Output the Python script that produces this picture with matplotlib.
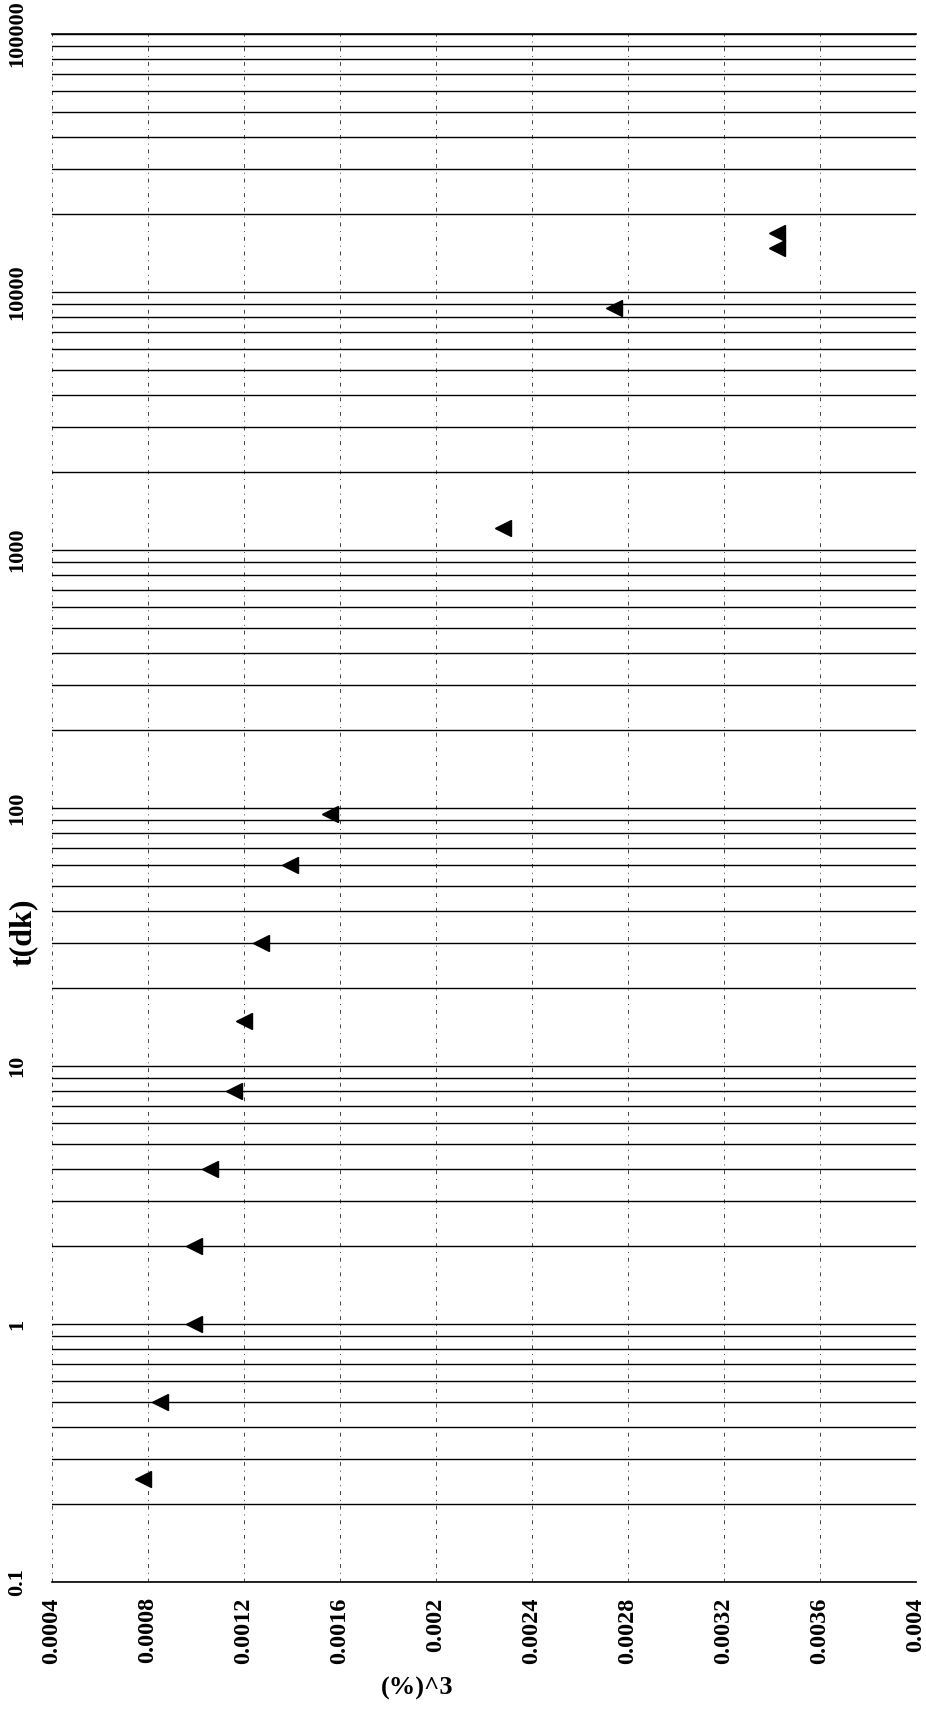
import numpy as np
import matplotlib
matplotlib.use('Agg')
import matplotlib.pyplot as plt
from matplotlib.ticker import LogLocator, NullFormatter

# data
strain3 = [0.00078, 0.00085, 0.00099, 0.00099, 0.00106, 0.00116,
           0.00120, 0.00127, 0.00139, 0.00156, 0.00228, 0.00274,
           0.00342, 0.00342]
t_dk = [0.25, 0.5, 1, 2, 4, 8,
        15, 30, 60, 95, 1220, 8700,
        16900, 14800]

xticks = [0.0004, 0.0008, 0.0012, 0.0016, 0.002, 0.0024, 0.0028, 0.0032, 0.0036, 0.004]
xticklabels = ['0.0004', '0.0008', '0.0012', '0.0016', '0.002', '0.0024',
               '0.0028', '0.0032', '0.0036', '0.004']
yticks = [0.1, 1, 10, 100, 1000, 10000, 100000]
yticklabels = ['0.1', '1', '10', '100', '1000', '10000', '100000']

plt.rcParams['font.family'] = 'Liberation Serif'
plt.rcParams['font.weight'] = 'bold'

fig = plt.figure(figsize=(9.26, 17.14), dpi=100)
ax = fig.add_axes([0.0562, 0.077, 0.933, 0.9032])

ax.plot(strain3, t_dk, '<', color='k', ms=11.5, zorder=5)

ax.set_yscale('log')
ax.set_ylim(0.1, 100000)
ax.set_xlim(0.0004, 0.004)

ax.yaxis.set_major_locator(LogLocator(base=10, numticks=20))
ax.yaxis.set_minor_locator(LogLocator(base=10, subs=np.arange(2, 10), numticks=100))
ax.yaxis.set_minor_formatter(NullFormatter())
ax.set_yticks(yticks)
ax.set_yticklabels(yticklabels, rotation=90, va='center', fontsize=16, fontweight='bold')
ax.set_xticks(xticks)
ax.set_xticklabels(xticklabels, rotation=90, ha='center', va='top', fontsize=17.5, fontweight='bold')

ax.tick_params(axis='both', which='both', length=0)
ax.tick_params(axis='x', pad=11)
ax.tick_params(axis='y', pad=18)

ax.grid(True, axis='y', which='both', color='k', lw=1.0)
ax.grid(True, axis='x', which='major', color='0.25', lw=0.7, ls=(0, (4, 5, 1, 5)))

for s in ['left', 'right']:
    ax.spines[s].set_visible(False)
for s in ['top', 'bottom']:
    ax.spines[s].set_linewidth(1.2)

ax.set_ylabel('t(dk)', fontsize=23, fontweight='bold')
ax.yaxis.set_label_coords(-0.016, 0.42)
ax.set_xlabel('(%)^3', fontsize=19, fontweight='bold')
ax.xaxis.set_label_coords(0.422, -0.061)

plt.savefig('out.png', dpi=100)
